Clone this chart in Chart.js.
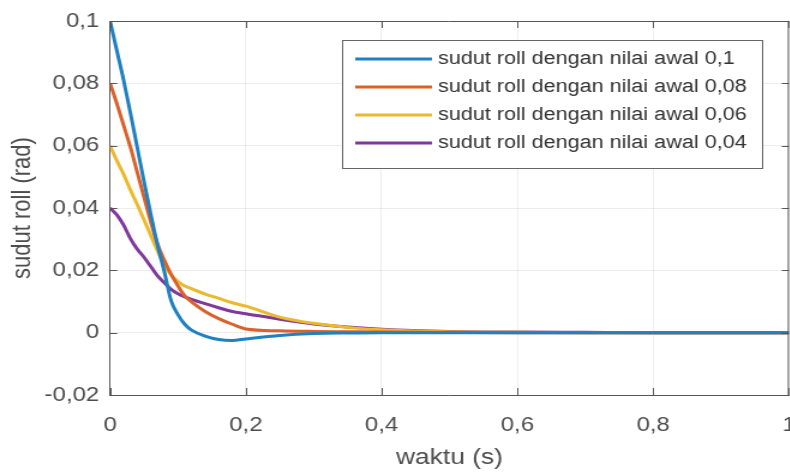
<!DOCTYPE html>
<html lang="id">
<head>
    <meta charset="UTF-8">
    <title>Sudut roll terhadap waktu</title>
    <script src="https://cdn.jsdelivr.net/npm/chart.js"></script>
    <style>
        html, body {
            margin: 0;
            padding: 0;
            background: #fff;
            overflow: hidden;
        }
        /* the reference figure is stretched sideways, so draw narrow and widen it */
        .wrap {
            width: 681px;
            height: 475px;
            transform: scaleX(1.2);
            transform-origin: 0 0;
        }
    </style>
</head>
<body>

    <div class="wrap"><canvas id="rollChart"></canvas></div>

    <script>
        // time (s)
        const waktu = [0, 0.01, 0.02, 0.03, 0.04, 0.05, 0.06, 0.07, 0.08, 0.09, 0.1, 0.11, 0.12, 0.14, 0.16, 0.18, 0.2, 0.25, 0.3, 0.35, 0.4, 0.5, 0.6, 0.7, 0.8, 0.9, 1.0];

        // roll angle (rad) for each starting value
        const rollAwal01  = [0.1, 0.0905, 0.081, 0.0705, 0.0595, 0.0485, 0.038, 0.028, 0.0195, 0.0102, 0.0058, 0.0027, 0.0008, -0.0011, -0.0022, -0.0025, -0.002, -0.0009, -0.0003, -0.0001, 0, 0, 0, 0, 0, 0, 0];
        const rollAwal008 = [0.08, 0.0735, 0.0665, 0.0595, 0.0515, 0.0435, 0.0355, 0.0285, 0.0232, 0.0187, 0.015, 0.0118, 0.0099, 0.0068, 0.0045, 0.0027, 0.0012, 0.0006, 0.0004, 0.0003, 0.0002, 0.0001, 0, 0, 0, 0, 0];
        const rollAwal006 = [0.06, 0.0552, 0.0508, 0.0458, 0.0411, 0.0362, 0.0312, 0.0262, 0.0217, 0.0185, 0.0164, 0.015, 0.0141, 0.0124, 0.011, 0.0096, 0.0085, 0.005, 0.003, 0.0017, 0.0009, 0.0003, 0.0001, 0, 0, 0, 0];
        const rollAwal004 = [0.04, 0.0378, 0.0345, 0.0302, 0.0268, 0.0242, 0.0212, 0.0182, 0.016, 0.0139, 0.0125, 0.0115, 0.0107, 0.0093, 0.008, 0.0068, 0.0061, 0.0043, 0.0028, 0.0018, 0.0011, 0.0004, 0.0002, 0.0001, 0, 0, 0];

        const legendLabels = [
            'sudut roll dengan nilai awal 0,1',
            'sudut roll dengan nilai awal 0,08',
            'sudut roll dengan nilai awal 0,06',
            'sudut roll dengan nilai awal 0,04'
        ];

        const textColor = '#4d4d4d';
        const axisColor = '#555';

        // decimal comma like the original figure
        function koma(v) {
            const r = Math.round(v * 1000) / 1000;
            return String(r).replace('.', ',');
        }

        function toPoints(values) {
            return waktu.map((t, i) => ({ x: t, y: values[i] }));
        }

        function line(label, values, color) {
            return {
                label: label,
                data: toPoints(values),
                borderColor: color,
                backgroundColor: color,
                borderWidth: 3,
                pointRadius: 0,
                cubicInterpolationMode: 'monotone'
            };
        }

        // box around the axes, inward ticks and legend inside the plot
        const matlabFrame = {
            id: 'matlabFrame',
            afterDatasetsDraw(chart) {
                const ctx = chart.ctx;
                const { left, right, top, bottom } = chart.chartArea;
                const xs = chart.scales.x;
                const ys = chart.scales.y;

                ctx.save();
                ctx.strokeStyle = axisColor;
                ctx.lineWidth = 1;
                ctx.beginPath();
                ctx.moveTo(left, top + 0.5);
                ctx.lineTo(right, top + 0.5);
                ctx.moveTo(right - 0.5, top);
                ctx.lineTo(right - 0.5, bottom);
                xs.ticks.forEach(t => {
                    const px = Math.round(xs.getPixelForValue(t.value)) + 0.5;
                    ctx.moveTo(px, bottom);
                    ctx.lineTo(px, bottom - 7);
                    ctx.moveTo(px, top);
                    ctx.lineTo(px, top + 7);
                });
                ys.ticks.forEach(t => {
                    const py = Math.round(ys.getPixelForValue(t.value)) + 0.5;
                    ctx.moveTo(left, py);
                    ctx.lineTo(left + 6, py);
                    ctx.moveTo(right, py);
                    ctx.lineTo(right - 6, py);
                });
                ctx.stroke();

                // legend
                const box = { x: 285, y: 40, w: 350, h: 128 };
                ctx.fillStyle = '#fff';
                ctx.fillRect(box.x, box.y, box.w, box.h);
                ctx.strokeStyle = '#666';
                ctx.strokeRect(box.x + 0.5, box.y + 0.5, box.w, box.h);

                ctx.font = '18px "Liberation Sans", Arial, sans-serif';
                ctx.textBaseline = 'middle';
                ctx.textAlign = 'left';
                chart.data.datasets.forEach((ds, i) => {
                    const rowY = 59 + i * 28;
                    ctx.strokeStyle = ds.borderColor;
                    ctx.lineWidth = 3;
                    ctx.beginPath();
                    ctx.moveTo(296, rowY);
                    ctx.lineTo(360, rowY);
                    ctx.stroke();
                    ctx.fillStyle = '#333';
                    ctx.fillText(ds.label, 365, rowY);
                });
                ctx.restore();
            }
        };

        new Chart(document.getElementById('rollChart'), {
            type: 'line',
            data: {
                datasets: [
                    line(legendLabels[0], rollAwal01, '#1f80c2'),
                    line(legendLabels[1], rollAwal008, '#d9612a'),
                    line(legendLabels[2], rollAwal006, '#ecb92e'),
                    line(legendLabels[3], rollAwal004, '#80399a')
                ]
            },
            options: {
                responsive: true,
                maintainAspectRatio: false,
                animation: false,
                layout: { padding: { top: 15, left: 0, right: 0, bottom: 0 } },
                plugins: {
                    legend: { display: false },
                    tooltip: { enabled: false }
                },
                scales: {
                    x: {
                        type: 'linear',
                        min: 0,
                        max: 1,
                        ticks: {
                            stepSize: 0.2,
                            maxRotation: 0,
                            padding: 18,
                            color: textColor,
                            font: { family: '"Liberation Sans", Arial, sans-serif', size: 20 },
                            callback: v => koma(v)
                        },
                        grid: { color: 'rgba(0,0,0,0.07)', drawTicks: false },
                        border: { color: axisColor, width: 1 },
                        title: {
                            display: true,
                            text: 'waktu (s)',
                            color: textColor,
                            font: { family: '"Liberation Sans", Arial, sans-serif', size: 22 },
                            padding: { top: 0, bottom: 4 }
                        },
                        afterFit: scale => { scale.height = 80; }
                    },
                    y: {
                        min: -0.02,
                        max: 0.1,
                        ticks: {
                            stepSize: 0.02,
                            padding: 9,
                            color: textColor,
                            font: { family: '"Liberation Sans", Arial, sans-serif', size: 20 },
                            callback: v => koma(v)
                        },
                        grid: { color: 'rgba(0,0,0,0.07)', drawTicks: false },
                        border: { color: axisColor, width: 1 },
                        title: {
                            display: true,
                            text: 'sudut roll (rad)',
                            color: textColor,
                            font: { family: '"Liberation Sans", Arial, sans-serif', size: 22 },
                            padding: { top: 6, bottom: 0 }
                        },
                        afterFit: scale => { scale.width = 91.7; }
                    }
                }
            },
            plugins: [matlabFrame]
        });
    </script>

</body>
</html>
